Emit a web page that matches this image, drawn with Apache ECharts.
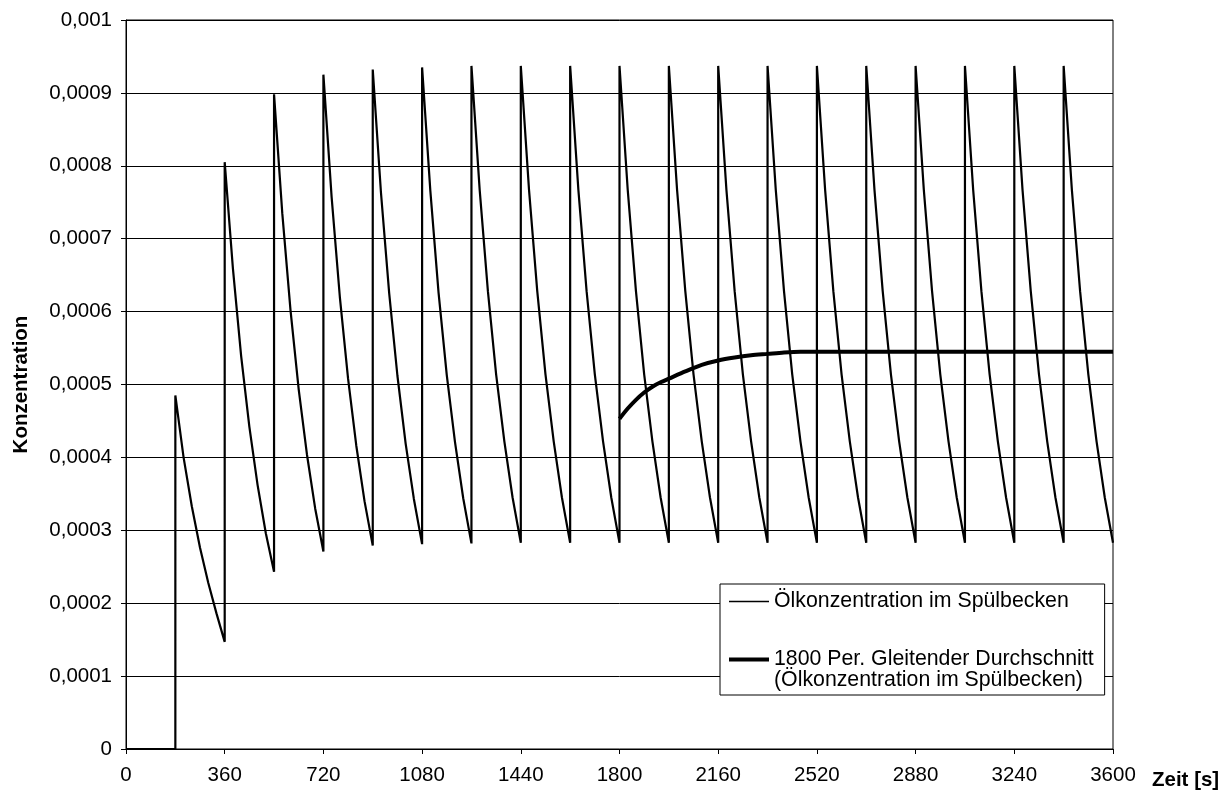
<!DOCTYPE html>
<html>
<head>
<meta charset="utf-8">
<script src="https://cdn.jsdelivr.net/npm/echarts@6/dist/echarts.min.js"></script>
<style>
  html, body { margin: 0; padding: 0; background: #fff; }
  #chart { width: 1229px; height: 791px; }
</style>
</head>
<body>
<div id="chart"></div>
<script>
// Time axis ticks (seconds)
const xTicks = [0, 360, 720, 1080, 1440, 1800, 2160, 2520, 2880, 3240, 3600];

// Before the first dose the basin is clean
const preDoseTimes = [0, 180];
const preDoseValues = [0, 0];

// Dosing instants: every 180 s a new portion of oil enters the basin
const cycleStarts = [180, 360, 540, 720, 900, 1080, 1260, 1440, 1620, 1800,
                     1980, 2160, 2340, 2520, 2700, 2880, 3060, 3240, 3420];
const sampleOffsets = [0, 30, 60, 90, 120, 150, 180];

// Concentration within each cycle, sampled at the offsets above
const peakValues = [0.000485, 0.000805, 0.000898, 0.000925, 0.000932, 0.000935, 0.000937,
                    0.000937, 0.000937, 0.000937, 0.000937, 0.000937, 0.000937, 0.000937,
                    0.000937, 0.000937, 0.000937, 0.000937, 0.000937];
const after30 = [0.000400, 0.000659, 0.000735, 0.000757, 0.000763, 0.000766, 0.000767,
                 0.000767, 0.000767, 0.000767, 0.000767, 0.000767, 0.000767, 0.000767,
                 0.000767, 0.000767, 0.000767, 0.000767, 0.000767];
const after60 = [0.000333, 0.000539, 0.000602, 0.000620, 0.000625, 0.000626, 0.000628,
                 0.000628, 0.000628, 0.000628, 0.000628, 0.000628, 0.000628, 0.000628,
                 0.000628, 0.000628, 0.000628, 0.000628, 0.000628];
const after90 = [0.000276, 0.000442, 0.000493, 0.000508, 0.000512, 0.000513, 0.000514,
                 0.000514, 0.000514, 0.000514, 0.000514, 0.000514, 0.000514, 0.000514,
                 0.000514, 0.000514, 0.000514, 0.000514, 0.000514];
const after120 = [0.000228, 0.000362, 0.000404, 0.000416, 0.000419, 0.000421, 0.000422,
                  0.000422, 0.000422, 0.000422, 0.000422, 0.000422, 0.000422, 0.000422,
                  0.000422, 0.000422, 0.000422, 0.000422, 0.000422];
const after150 = [0.000186, 0.000296, 0.000330, 0.000340, 0.000343, 0.000344, 0.000345,
                  0.000345, 0.000345, 0.000345, 0.000345, 0.000345, 0.000345, 0.000345,
                  0.000345, 0.000345, 0.000345, 0.000345, 0.000345];
const endValues = [0.000147, 0.000243, 0.000271, 0.000279, 0.000281, 0.000282, 0.000283,
                   0.000283, 0.000283, 0.000283, 0.000283, 0.000283, 0.000283, 0.000283,
                   0.000283, 0.000283, 0.000283, 0.000283, 0.000283];

// 1800-period moving average
const maTimes = [1800, 1830, 1860, 1890, 1920, 1950, 1980, 2040, 2100, 2160, 2220,
                 2280, 2340, 2400, 2460, 2520, 2700, 2880, 3060, 3240, 3420, 3600];
const maValues = [0.000453, 0.000467, 0.000479, 0.000489, 0.000497, 0.000503, 0.000508,
                  0.000518, 0.000527, 0.000533, 0.000537, 0.000540, 0.000542, 0.000544,
                  0.000545, 0.000545, 0.000545, 0.000545, 0.000545, 0.000545, 0.000545, 0.000545];

const oilName = 'Ölkonzentration im Spülbecken';
const maName = '1800 Per. Gleitender Durchschnitt\n(Ölkonzentration im Spülbecken)';

// Assemble the sawtooth: flat start, then each cycle jumps to its peak and decays
const oilData = preDoseTimes.map((t, i) => [t, preDoseValues[i]]);
cycleStarts.forEach((t0, i) => {
  const cols = [peakValues, after30, after60, after90, after120, after150, endValues];
  sampleOffsets.forEach((off, k) => oilData.push([t0 + off, cols[k][i]]));
});
const maData = maTimes.map((t, i) => [t, maValues[i]]);

const FONT = '"Liberation Sans", Arial, sans-serif';
const fmtY = v => String(Math.round(v * 1e10) / 1e10).replace('.', ',');
const fmtX = v => String(Math.round(v));

const chart = echarts.init(document.getElementById('chart'), null, { renderer: 'canvas' });
chart.setOption({
  backgroundColor: '#fff',
  animation: false,
  textStyle: { fontFamily: FONT, color: '#000' },
  grid: {
    left: 126, right: 116, top: 20, bottom: 41,
    show: true, borderColor: '#000', borderWidth: 1, backgroundColor: 'transparent'
  },
  xAxis: {
    type: 'value', min: xTicks[0], max: xTicks[xTicks.length - 1], interval: 360,
    name: 'Zeit [s]', nameLocation: 'end', nameGap: 39,
    nameTextStyle: { fontFamily: FONT, fontSize: 20.5, fontWeight: 'bold', color: '#000',
                     verticalAlign: 'top', padding: [21, 0, 0, 0] },
    axisLine: { lineStyle: { color: '#000', width: 1 } },
    axisTick: { show: true, length: 5, lineStyle: { color: '#000' } },
    axisLabel: { fontFamily: FONT, fontSize: 20.5, color: '#000', margin: 16, formatter: fmtX },
    splitLine: { show: false }
  },
  yAxis: {
    type: 'value', min: 0, max: 0.001, interval: 0.0001,
    name: 'Konzentration', nameLocation: 'middle', nameGap: 94,
    nameTextStyle: { fontFamily: FONT, fontSize: 20.5, fontWeight: 'bold', color: '#000' },
    axisLine: { lineStyle: { color: '#000', width: 1 } },
    axisTick: { show: true, length: 5, lineStyle: { color: '#000' } },
    axisLabel: { fontFamily: FONT, fontSize: 20.5, color: '#000', margin: 14, formatter: fmtY },
    splitLine: { show: true, lineStyle: { color: '#000', width: 1 } }
  },
  legend: {
    orient: 'vertical', left: 720, top: 584,
    padding: [7, 11, 4, 7], itemGap: 16, itemWidth: 40, itemHeight: 14,
    backgroundColor: '#fff', borderColor: '#000', borderWidth: 1, borderRadius: 0,
    itemStyle: { opacity: 0 },
    textStyle: { fontFamily: FONT, fontSize: 21.3, color: '#000', lineHeight: 21 },
    formatter: name => (name === maName ? '\n' + name : name),
    data: [
      { name: oilName, lineStyle: { color: '#000', width: 1.6 }, itemStyle: { opacity: 0 } },
      { name: maName, lineStyle: { color: '#000', width: 4 }, itemStyle: { opacity: 0 } }
    ]
  },
  series: [
    {
      name: oilName, type: 'line', data: oilData, showSymbol: false, symbol: 'none',
      lineStyle: { color: '#000', width: 2.2 }, itemStyle: { color: '#000' }, z: 3
    },
    {
      name: maName, type: 'line', data: maData, showSymbol: false, symbol: 'none', smooth: 0.3,
      lineStyle: { color: '#000', width: 4 }, itemStyle: { color: '#000' }, z: 4
    }
  ]
});
</script>
</body>
</html>
